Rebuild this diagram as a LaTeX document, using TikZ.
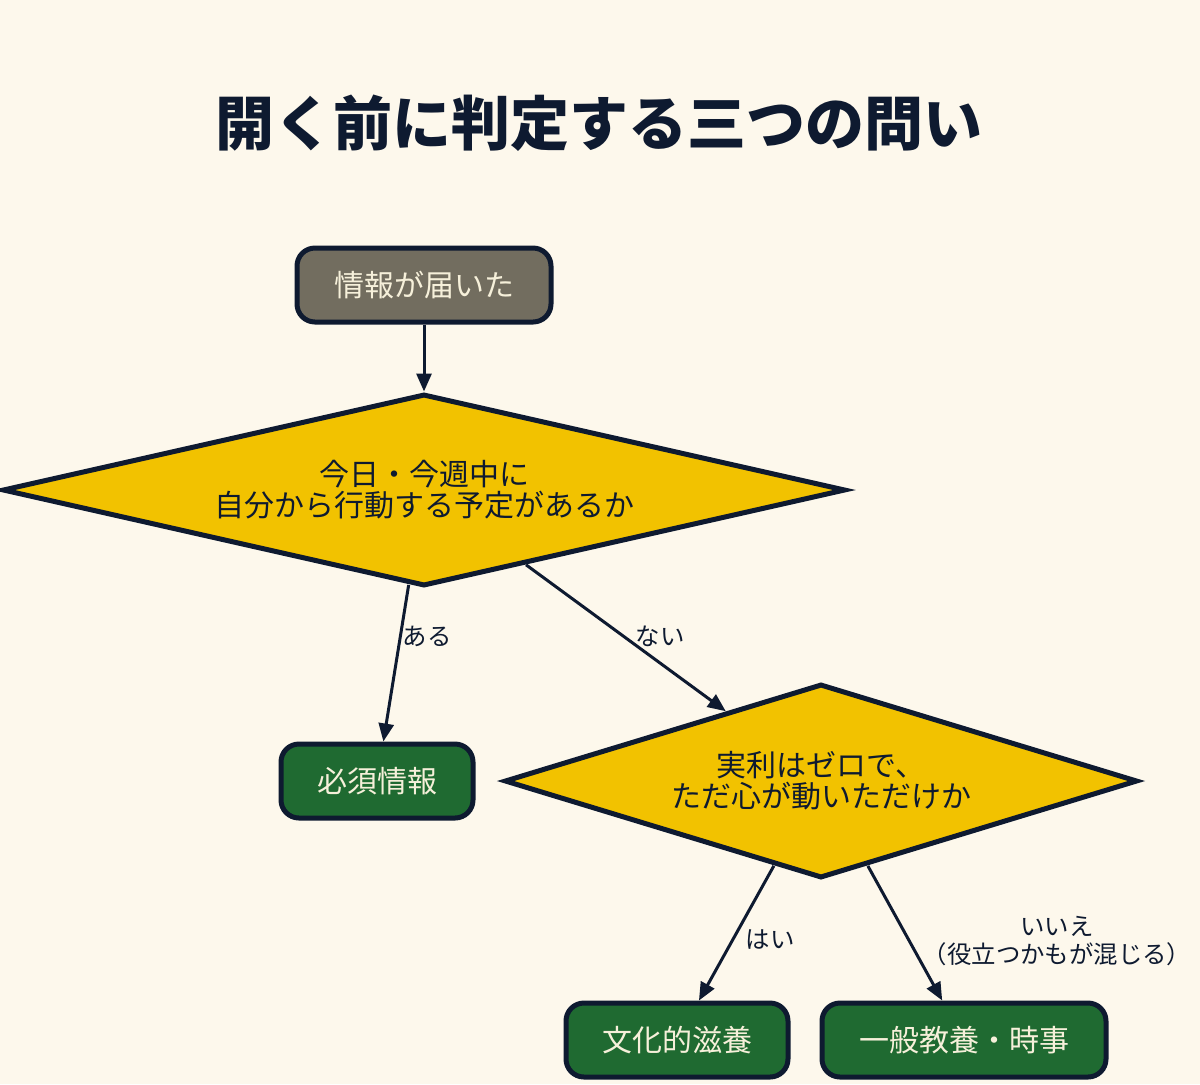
\documentclass[tikz,border=0pt]{standalone}
\usepackage{fontspec}
\setmainfont{Noto Sans CJK JP}
\usetikzlibrary{shapes.geometric,arrows.meta}

\definecolor{bgcream}{HTML}{FDF8EC}
\definecolor{navy}{HTML}{0E1A30}
\definecolor{stonegray}{HTML}{726D5F}
\definecolor{mustard}{HTML}{F2C200}
\definecolor{leafgreen}{HTML}{1F6A31}
\definecolor{paletext}{HTML}{F6F0DA}

\begin{document}
\begin{tikzpicture}[x=0.5pt,y=0.5pt,yscale=-1,
  termbox/.style={draw=navy, line width=2.5pt, rounded corners=9pt, fill=stonegray, text=paletext,
    minimum height=37pt, inner sep=0pt, font=\fontsize{15}{16}\selectfont},
  resultbox/.style={termbox, fill=leafgreen},
  decision/.style={diamond, draw=navy, line width=2.5pt, fill=mustard, text=navy, align=center,
    inner sep=0pt, font=\fontsize{15}{15.5}\selectfont},
  flow/.style={draw=navy, line width=1.5pt, -{Triangle[length=9pt,width=7.5pt]}},
  edgelabel/.style={text=navy, inner sep=0pt, align=center, font=\fontsize{12.2}{14}\selectfont}]
%set diagram size: 1200 x 1084
\path [fill=bgcream] (0,0) rectangle (1200,1084);

% Title
\node (title) at (599,123) [text=navy, font=\fontsize{29.5}{31}\selectfont\bfseries] {開く前に判定する三つの問い};

%Shape: Rounded Rect
\node (arrived) at (424,285) [termbox, minimum width=127pt] {情報が届いた};
%Shape: Diamond
\node (q1) at (424,490) [decision, aspect=4.39, minimum width=421.5pt, minimum height=96pt] {今日・今週中に\\自分から行動する予定があるか};
%Shape: Diamond
\node (q2) at (821,781) [decision, aspect=3.26, minimum width=316.5pt, minimum height=97pt] {実利はゼロで、\\ただ心が動いただけか};
%Shape: Rounded Rect
\node (must) at (377,781) [resultbox, minimum width=96pt] {必須情報};
\node (culture) at (677,1040) [resultbox, minimum width=111pt] {文化的滋養};
\node (general) at (964,1040) [resultbox, minimum width=142pt] {一般教養・時事};

%Straight Lines
\draw [flow] (arrived) -- (q1);
\draw [flow] (q1) -- (must);
\draw [flow] (q1) -- (q2);
\draw [flow] (q2) -- (culture);
\draw [flow] (q2) -- (general);

% Text Node
\node (yes1) at (427,636) [edgelabel] {ある};
\node (no1) at (660,636) [edgelabel] {ない};
\node (yes2) at (770,940) [edgelabel] {はい};
\node (no2) at (1057,941) [edgelabel] {いいえ\\（役立つかもが混じる）};

\end{tikzpicture}
\end{document}
